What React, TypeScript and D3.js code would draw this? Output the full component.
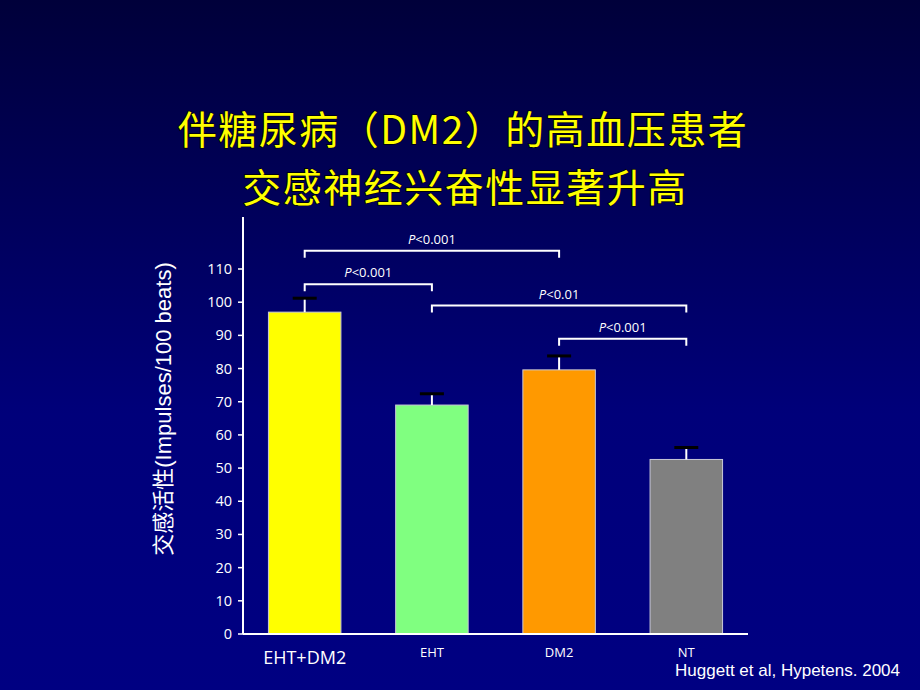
import React from 'react';
import * as d3 from 'd3';

const groups = ['EHT+DM2', 'EHT', 'DM2', 'NT'];
const means = [97, 69, 79.6, 52.6];
const errTops = [101.2, 72.4, 83.8, 56.2];
const barColors = ['#ffff00', '#80ff80', '#ff9900', '#808080'];
const yTicks = [0, 10, 20, 30, 40, 50, 60, 70, 80, 90, 100, 110];

// significance brackets: from group, to group, bar level (value units), label
const brFrom = ['EHT+DM2', 'EHT+DM2', 'EHT', 'DM2'];
const brTo = ['DM2', 'EHT', 'NT', 'NT'];
const brLevel = [115.5, 105.4, 99, 89];
const brLabel = ['<0.001', '<0.001', '<0.01', '<0.001'];

const W = 920;
const H = 690;

const App = () => {
  const x = d3.scaleBand<string>().domain(groups).range([243, 748]).paddingInner(0.43).paddingOuter(0.2);
  const y = d3.scaleLinear().domain([0, 110]).range([634, 269]);
  const bw = x.bandwidth();
  const cx = (g: string) => (x(g) as number) + bw / 2;
  const sans = 'Arial, "Liberation Sans", "Noto Sans CJK SC", sans-serif';
  const calibri = '"Open Sans", "Noto Sans", sans-serif';

  return (
    <svg width={W} height={H} style={{ position: 'fixed', left: 0, top: 0 }}>
      <defs>
        <linearGradient id="bg" x1="0" y1="0" x2="0" y2="1">
          <stop offset="0" stopColor="#00003a" />
          <stop offset="0.6" stopColor="#00007a" />
          <stop offset="1" stopColor="#000082" />
        </linearGradient>
      </defs>
      <rect width={W} height={H} fill="url(#bg)" />

      {/* title */}
      <g fontFamily='"Noto Sans CJK SC", sans-serif' fontSize={39} letterSpacing={1.5} fill="#ffff00" stroke="#000000" strokeWidth={1.3} paintOrder="stroke" textAnchor="middle">
        <text x={463} y={144}>伴糖尿病（DM2）的高血压患者</text>
        <text x={465} y={202}>交感神经兴奋性显著升高</text>
      </g>

      {/* bars */}
      {groups.map((g, i) => (
        <rect key={g} x={x(g)} y={y(means[i])} width={bw} height={y(0) - y(means[i])}
          fill={barColors[i]} stroke="#c8c8d8" strokeWidth={1} />
      ))}

      {/* error bars */}
      {groups.map((g, i) => (
        <g key={'e' + g}>
          <line x1={cx(g)} x2={cx(g)} y1={y(means[i])} y2={y(errTops[i])} stroke="#ffffff" strokeWidth={2} />
          <line x1={cx(g) - 12} x2={cx(g) + 12} y1={y(errTops[i])} y2={y(errTops[i])} stroke="#000000" strokeWidth={3} />
        </g>
      ))}

      {/* axes */}
      <line x1={243} x2={243} y1={217} y2={y(0)} stroke="#ffffff" strokeWidth={2} />
      <line x1={243} x2={748} y1={y(0)} y2={y(0)} stroke="#ffffff" strokeWidth={2} />
      {yTicks.map(t => (
        <g key={t}>
          <line x1={238} x2={243} y1={y(t)} y2={y(t)} stroke="#ffffff" strokeWidth={1.5} />
          <text x={232} y={y(t) + 5} textAnchor="end" fill="#ffffff" fontFamily={calibri} fontSize={14.5}>{t}</text>
        </g>
      ))}

      {/* category labels */}
      {groups.map((g, i) => (
        <text key={'c' + g} x={cx(g)} y={i === 0 ? 664 : 657} textAnchor="middle" fill="#ffffff"
          fontFamily={calibri} fontSize={i === 0 ? 18 : 13}>{g}</text>
      ))}

      {/* y axis title */}
      <text transform="translate(171,409) rotate(-90)" textAnchor="middle" fill="#ffffff"
        fontFamily={sans} fontSize={22}>交感活性(Impulses/100 beats)</text>

      {/* significance brackets */}
      {brFrom.map((f, i) => {
        const x1 = cx(f);
        const x2 = cx(brTo[i]);
        const yy = y(brLevel[i]);
        return (
          <g key={'b' + i}>
            <path d={`M${x1},${yy + 7}V${yy}H${x2}V${yy + 7}`} fill="none" stroke="#ffffff" strokeWidth={2} />
            <text x={(x1 + x2) / 2} y={yy - 7} textAnchor="middle" fill="#ffffff" fontFamily={calibri} fontSize={13}>
              <tspan fontStyle="italic">P</tspan>{brLabel[i]}
            </text>
          </g>
        );
      })}

      <text x={900} y={676} textAnchor="end" fill="#ffffff" fontFamily={sans} fontSize={17}>Huggett et al, Hypetens. 2004</text>
    </svg>
  );
};

export default App;
